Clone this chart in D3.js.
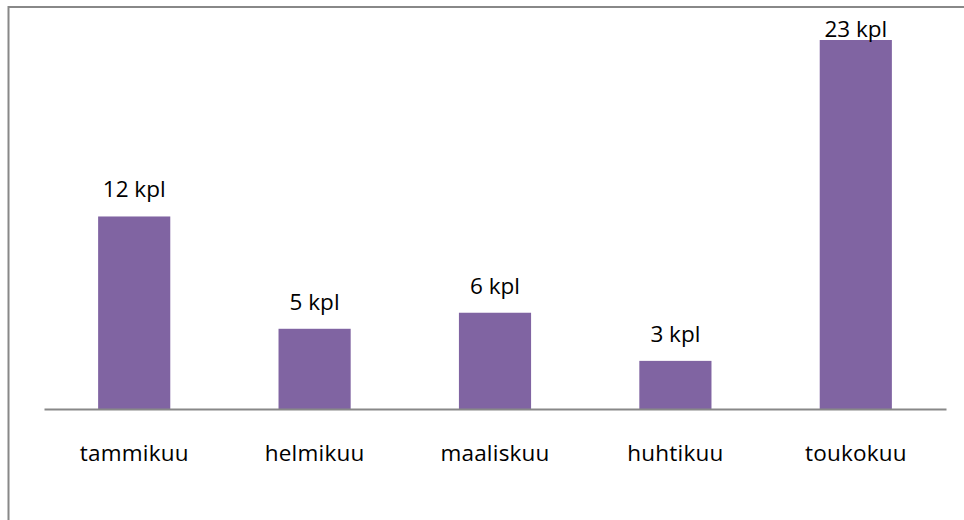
<!DOCTYPE html>
<html>
<head>
<meta charset="utf-8">
<script src="https://cdn.jsdelivr.net/npm/d3@7"></script>
<style>
  html, body { margin: 0; padding: 0; background: #fff; }
  svg { display: block; }
  text { font-family: "Open Sans", "Noto Sans", sans-serif; fill: #000; }
</style>
</head>
<body>
<svg id="chart" width="964" height="520"></svg>
<script>
// Monthly counts (kpl)
const months = ["tammikuu", "helmikuu", "maaliskuu", "huhtikuu", "toukokuu"];
const counts = [12, 5, 6, 3, 23];
const unit = "kpl";

const svg = d3.select("#chart");
const W = 964, H = 520;
const fontSize = 22.5;

// Chart frame (extends beyond the visible area on the right and bottom)
svg.append("rect")
  .attr("x", 8.5).attr("y", 7)
  .attr("width", W + 20).attr("height", H + 20)
  .attr("fill", "none")
  .attr("stroke", "#888")
  .attr("stroke-width", 2);

const plot = { left: 44, right: 946, top: 40, bottom: 409 };

const x = d3.scaleBand()
  .domain(months)
  .range([plot.left, plot.right])
  .paddingInner(0.6)
  .paddingOuter(0.3);

const y = d3.scaleLinear()
  .domain([0, d3.max(counts)])
  .range([plot.bottom, plot.top]);

const data = months.map((m, i) => ({ month: m, value: counts[i] }));

// Bars
svg.append("g").selectAll("rect")
  .data(data)
  .join("rect")
  .attr("x", d => x(d.month))
  .attr("y", d => y(d.value))
  .attr("width", x.bandwidth())
  .attr("height", d => y(0) - y(d.value))
  .attr("fill", "#8064A2");

// Category axis line and labels
const xAxis = d3.axisBottom(x).tickSize(0).tickPadding(0);
const gx = svg.append("g")
  .attr("transform", `translate(0,${y(0)})`)
  .call(xAxis);
gx.select(".domain").attr("stroke", "#888").attr("stroke-width", 2);
gx.selectAll(".tick text")
  .attr("dy", null)
  .attr("y", 51.5)
  .attr("font-size", fontSize)
  .attr("letter-spacing", 0.2)
  .attr("font-family", "'Open Sans', sans-serif")
  .attr("fill", "#000");

// Value labels above bars, kept inside the plot area
svg.append("g").selectAll("text")
  .data(data)
  .join("text")
  .attr("x", d => x(d.month) + x.bandwidth() / 2)
  .attr("y", d => Math.max(y(d.value) - 19, plot.top - 3.3))
  .attr("text-anchor", "middle")
  .attr("font-size", fontSize)
  .text(d => `${d.value} ${unit}`);
</script>
</body>
</html>
